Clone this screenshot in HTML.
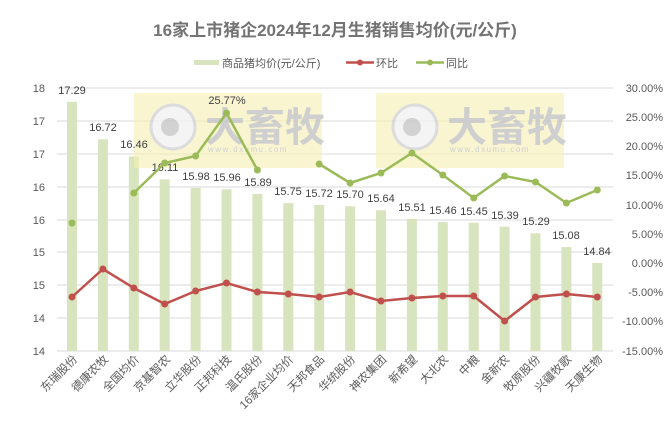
<!DOCTYPE html>
<html><head><meta charset="utf-8"><style>
html,body{margin:0;padding:0;background:#fff;}
svg{display:block;}
text{font-family:"Liberation Sans","Noto Sans CJK SC",sans-serif;}
.ax{font-size:11px;fill:#595959;}
.dl{font-size:11px;fill:#404040;}
.xl{font-size:11.5px;fill:#595959;font-family:"Liberation Serif","Noto Serif CJK SC",serif;}
</style></head><body>
<svg width="667" height="429" viewBox="0 0 667 429" xmlns="http://www.w3.org/2000/svg">
<rect width="667" height="429" fill="#fff"/>
<text x="335" y="36" text-anchor="middle" font-size="17" font-weight="bold" fill="#737373">16家上市猪企2024年12月生猪销售均价(元/公斤)</text>
<rect x="194" y="60" width="25" height="5" fill="#d7e4bd"/>
<text x="222" y="67" font-size="11" fill="#595959">商品猪均价(元/公斤)</text>
<line x1="346" y1="62.5" x2="374" y2="62.5" stroke="#c0504d" stroke-width="2.5"/><circle cx="360" cy="62.5" r="3" fill="#c0504d"/>
<text x="376" y="67" font-size="11" fill="#595959">环比</text>
<line x1="416" y1="62.5" x2="444" y2="62.5" stroke="#9bbb59" stroke-width="2.5"/><circle cx="430" cy="62.5" r="3" fill="#9bbb59"/>
<text x="446" y="67" font-size="11" fill="#595959">同比</text>
<g stroke="#d9d9d9" stroke-width="1">
<line x1="57" y1="88" x2="613" y2="88"/><line x1="57" y1="121" x2="613" y2="121"/><line x1="57" y1="154" x2="613" y2="154"/><line x1="57" y1="187" x2="613" y2="187"/><line x1="57" y1="220" x2="613" y2="220"/><line x1="57" y1="252" x2="613" y2="252"/><line x1="57" y1="285" x2="613" y2="285"/><line x1="57" y1="318" x2="613" y2="318"/><line x1="57" y1="351" x2="613" y2="351"/>
</g>
<g class="ax" text-anchor="end">
<text x="45" y="92">18</text><text x="45" y="125">17</text><text x="45" y="158">17</text><text x="45" y="191">16</text><text x="45" y="224">16</text><text x="45" y="256">15</text><text x="45" y="289">15</text><text x="45" y="322">14</text><text x="45" y="355">14</text>
</g>
<g class="ax" text-anchor="end">
<text x="663" y="92">30.00%</text><text x="663" y="121">25.00%</text><text x="663" y="150">20.00%</text><text x="663" y="179">15.00%</text><text x="663" y="209">10.00%</text><text x="663" y="238">5.00%</text><text x="663" y="267">0.00%</text><text x="663" y="296">-5.00%</text><text x="663" y="325">-10.00%</text><text x="663" y="355">-15.00%</text>
</g>
<g fill="#d7e4bd">
<rect x="67" y="101.8" width="10" height="249.2"/>
<rect x="97.9" y="139.3" width="10" height="211.7"/>
<rect x="128.8" y="156.4" width="10" height="194.6"/>
<rect x="159.7" y="179.4" width="10" height="171.6"/>
<rect x="190.6" y="187.9" width="10" height="163.1"/>
<rect x="221.5" y="189.3" width="10" height="161.7"/>
<rect x="252.4" y="193.9" width="10" height="157.1"/>
<rect x="283.3" y="203.1" width="10" height="147.9"/>
<rect x="314.2" y="205" width="10" height="146"/>
<rect x="345.1" y="206.3" width="10" height="144.7"/>
<rect x="376" y="210.3" width="10" height="140.7"/>
<rect x="406.9" y="218.8" width="10" height="132.2"/>
<rect x="437.8" y="222.1" width="10" height="128.9"/>
<rect x="468.7" y="222.8" width="10" height="128.2"/>
<rect x="499.6" y="226.7" width="10" height="124.3"/>
<rect x="530.5" y="233.3" width="10" height="117.7"/>
<rect x="561.4" y="247.1" width="10" height="103.9"/>
<rect x="592.3" y="262.9" width="10" height="88.1"/>
</g>
<g opacity="0.8">
<rect x="134" y="93" width="188" height="75" fill="#f5efb0" opacity="0.75"/>
<circle cx="173" cy="127" r="22" fill="#f2f2f2" stroke="#d4d4d4" stroke-width="3"/><circle cx="170" cy="127" r="9" fill="#c8c8c8"/>
<text x="205" y="141" font-size="40" font-weight="bold" fill="#c4c4c4" font-family="'Noto Sans CJK SC',sans-serif">大畜牧</text>
<text x="208" y="152" font-size="8" fill="#c4c4c4" letter-spacing="1.5">www.dxumu.com</text>
<rect x="376" y="93" width="188" height="75" fill="#f5efb0" opacity="0.75"/>
<circle cx="415" cy="127" r="22" fill="#f2f2f2" stroke="#d4d4d4" stroke-width="3"/><circle cx="412" cy="127" r="9" fill="#c8c8c8"/>
<text x="447" y="141" font-size="40" font-weight="bold" fill="#c4c4c4" font-family="'Noto Sans CJK SC',sans-serif">大畜牧</text>
<text x="450" y="152" font-size="8" fill="#c4c4c4" letter-spacing="1.5">www.dxumu.com</text>
</g>
<g class="dl" text-anchor="middle">
<text x="72" y="94">17.29</text><text x="103" y="131">16.72</text><text x="134" y="148">16.46</text><text x="165" y="171">16.11</text><text x="196" y="180">15.98</text><text x="227" y="181">15.96</text><text x="258" y="186">15.89</text><text x="288" y="195">15.75</text><text x="319" y="197">15.72</text><text x="350" y="198">15.70</text><text x="381" y="202">15.64</text><text x="412" y="211">15.51</text><text x="443" y="214">15.46</text><text x="474" y="215">15.45</text><text x="505" y="219">15.39</text><text x="536" y="225">15.29</text><text x="566" y="239">15.08</text><text x="597" y="255">14.84</text>
<text x="227" y="104">25.77%</text>
</g>
<polyline fill="none" stroke="#c0504d" stroke-width="2.5" points="72,297 102.9,269 133.8,288 164.7,304 195.6,291 226.5,283 257.4,292 288.3,294 319.2,297 350.1,292 381,301 411.9,298 442.8,296 473.7,296 504.6,321 535.5,297 566.4,294 597.3,297"/>
<g fill="#c0504d"><circle cx="72" cy="297" r="3.5"/><circle cx="102.9" cy="269" r="3.5"/><circle cx="133.8" cy="288" r="3.5"/><circle cx="164.7" cy="304" r="3.5"/><circle cx="195.6" cy="291" r="3.5"/><circle cx="226.5" cy="283" r="3.5"/><circle cx="257.4" cy="292" r="3.5"/><circle cx="288.3" cy="294" r="3.5"/><circle cx="319.2" cy="297" r="3.5"/><circle cx="350.1" cy="292" r="3.5"/><circle cx="381" cy="301" r="3.5"/><circle cx="411.9" cy="298" r="3.5"/><circle cx="442.8" cy="296" r="3.5"/><circle cx="473.7" cy="296" r="3.5"/><circle cx="504.6" cy="321" r="3.5"/><circle cx="535.5" cy="297" r="3.5"/><circle cx="566.4" cy="294" r="3.5"/><circle cx="597.3" cy="297" r="3.5"/></g>
<polyline fill="none" stroke="#9bbb59" stroke-width="2.5" points="133.8,193 164.7,163 195.6,156 226.5,113 257.4,170"/>
<polyline fill="none" stroke="#9bbb59" stroke-width="2.5" points="319.2,164 350.1,183 381,173 411.9,153 442.8,175 473.7,198 504.6,176 535.5,182 566.4,203 597.3,190"/>
<g fill="#9bbb59"><circle cx="72" cy="223" r="3.5"/><circle cx="133.8" cy="193" r="3.5"/><circle cx="164.7" cy="163" r="3.5"/><circle cx="195.6" cy="156" r="3.5"/><circle cx="226.5" cy="113" r="3.5"/><circle cx="257.4" cy="170" r="3.5"/><circle cx="319.2" cy="164" r="3.5"/><circle cx="350.1" cy="183" r="3.5"/><circle cx="381" cy="173" r="3.5"/><circle cx="411.9" cy="153" r="3.5"/><circle cx="442.8" cy="175" r="3.5"/><circle cx="473.7" cy="198" r="3.5"/><circle cx="504.6" cy="176" r="3.5"/><circle cx="535.5" cy="182" r="3.5"/><circle cx="566.4" cy="203" r="3.5"/><circle cx="597.3" cy="190" r="3.5"/></g>
<g class="xl" text-anchor="end">
<text transform="translate(78,360) rotate(-45)">东瑞股份</text>
<text transform="translate(109,360) rotate(-45)">德康农牧</text>
<text transform="translate(140,360) rotate(-45)">全国均价</text>
<text transform="translate(171,360) rotate(-45)">京基智农</text>
<text transform="translate(202,360) rotate(-45)">立华股份</text>
<text transform="translate(232,360) rotate(-45)">正邦科技</text>
<text transform="translate(263,360) rotate(-45)">温氏股份</text>
<text transform="translate(294,360) rotate(-45)">16家企业均价</text>
<text transform="translate(325,360) rotate(-45)">天邦食品</text>
<text transform="translate(356,360) rotate(-45)">华统股份</text>
<text transform="translate(387,360) rotate(-45)">神农集团</text>
<text transform="translate(418,360) rotate(-45)">新希望</text>
<text transform="translate(449,360) rotate(-45)">大北农</text>
<text transform="translate(480,360) rotate(-45)">中粮</text>
<text transform="translate(510,360) rotate(-45)">金新农</text>
<text transform="translate(541,360) rotate(-45)">牧原股份</text>
<text transform="translate(572,360) rotate(-45)">兴疆牧歌</text>
<text transform="translate(603,360) rotate(-45)">天康生物</text>
</g>
</svg>
</body></html>
